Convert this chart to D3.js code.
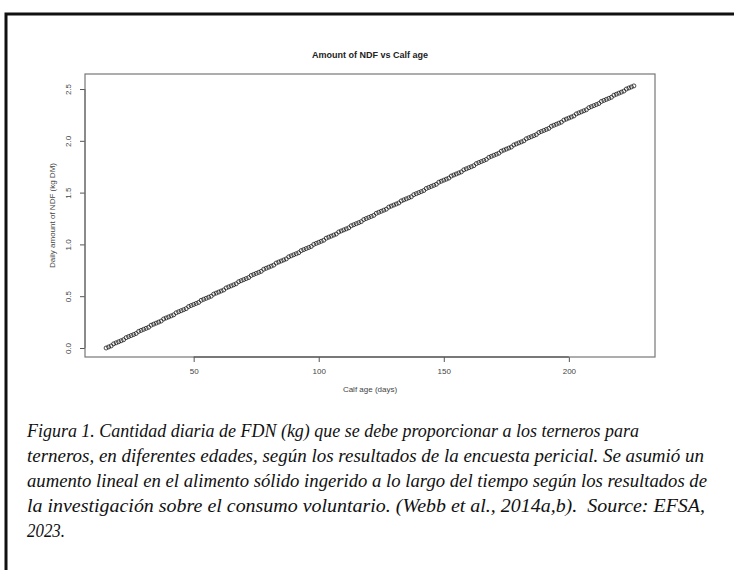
<!DOCTYPE html>
<html>
<head>
<meta charset="utf-8">
<script src="https://cdn.jsdelivr.net/npm/d3@7"></script>
<style>
  body { margin: 0; background: #fff; }
  svg { display: block; }
</style>
</head>
<body>
<div id="chart"></div>
<script>
// calf age (days)
var ages = [
  15, 16, 17, 18, 19, 20, 21, 22, 23, 24, 25, 26, 27, 28, 29, 30, 31, 32, 33, 34,
  35, 36, 37, 38, 39, 40, 41, 42, 43, 44, 45, 46, 47, 48, 49, 50, 51, 52, 53, 54,
  55, 56, 57, 58, 59, 60, 61, 62, 63, 64, 65, 66, 67, 68, 69, 70, 71, 72, 73, 74,
  75, 76, 77, 78, 79, 80, 81, 82, 83, 84, 85, 86, 87, 88, 89, 90, 91, 92, 93, 94,
  95, 96, 97, 98, 99, 100, 101, 102, 103, 104, 105, 106, 107, 108, 109, 110, 111, 112, 113, 114,
  115, 116, 117, 118, 119, 120, 121, 122, 123, 124, 125, 126, 127, 128, 129, 130, 131, 132, 133, 134,
  135, 136, 137, 138, 139, 140, 141, 142, 143, 144, 145, 146, 147, 148, 149, 150, 151, 152, 153, 154,
  155, 156, 157, 158, 159, 160, 161, 162, 163, 164, 165, 166, 167, 168, 169, 170, 171, 172, 173, 174,
  175, 176, 177, 178, 179, 180, 181, 182, 183, 184, 185, 186, 187, 188, 189, 190, 191, 192, 193, 194,
  195, 196, 197, 198, 199, 200, 201, 202, 203, 204, 205, 206, 207, 208, 209, 210, 211, 212, 213, 214,
  215, 216, 217, 218, 219, 220, 221, 222, 223, 224, 225, 226
];

// daily amount of NDF (kg DM)
var ndf = [
  0.00, 0.01, 0.02, 0.04, 0.05, 0.06, 0.07, 0.08, 0.10, 0.11,
  0.12, 0.13, 0.14, 0.16, 0.17, 0.18, 0.19, 0.20, 0.22, 0.23,
  0.24, 0.25, 0.26, 0.28, 0.29, 0.30, 0.31, 0.32, 0.34, 0.35,
  0.36, 0.37, 0.38, 0.40, 0.41, 0.42, 0.43, 0.44, 0.46, 0.47,
  0.48, 0.49, 0.50, 0.52, 0.53, 0.54, 0.55, 0.56, 0.58, 0.59,
  0.60, 0.61, 0.62, 0.64, 0.65, 0.66, 0.67, 0.68, 0.70, 0.71,
  0.72, 0.73, 0.74, 0.76, 0.77, 0.78, 0.79, 0.80, 0.82, 0.83,
  0.84, 0.85, 0.86, 0.88, 0.89, 0.90, 0.91, 0.92, 0.94, 0.95,
  0.96, 0.97, 0.98, 1.00, 1.01, 1.02, 1.03, 1.04, 1.06, 1.07,
  1.08, 1.09, 1.10, 1.12, 1.13, 1.14, 1.15, 1.16, 1.18, 1.19,
  1.20, 1.21, 1.22, 1.24, 1.25, 1.26, 1.27, 1.28, 1.30, 1.31,
  1.32, 1.33, 1.34, 1.36, 1.37, 1.38, 1.39, 1.40, 1.42, 1.43,
  1.44, 1.45, 1.46, 1.48, 1.49, 1.50, 1.51, 1.52, 1.54, 1.55,
  1.56, 1.57, 1.58, 1.60, 1.61, 1.62, 1.63, 1.64, 1.66, 1.67,
  1.68, 1.69, 1.70, 1.72, 1.73, 1.74, 1.75, 1.76, 1.78, 1.79,
  1.80, 1.81, 1.82, 1.84, 1.85, 1.86, 1.87, 1.88, 1.90, 1.91,
  1.92, 1.93, 1.94, 1.96, 1.97, 1.98, 1.99, 2.00, 2.02, 2.03,
  2.04, 2.05, 2.06, 2.08, 2.09, 2.10, 2.11, 2.12, 2.14, 2.15,
  2.16, 2.17, 2.18, 2.20, 2.21, 2.22, 2.23, 2.24, 2.26, 2.27,
  2.28, 2.29, 2.30, 2.32, 2.33, 2.34, 2.35, 2.36, 2.38, 2.39,
  2.40, 2.41, 2.42, 2.44, 2.45, 2.46, 2.47, 2.48, 2.50, 2.51,
  2.52, 2.53
];

var xTicks = [50, 100, 150, 200];
var yTicks = [0, 0.5, 1.0, 1.5, 2.0, 2.5];

var captionLines = [
  "Figura 1. Cantidad diaria de FDN (kg) que se debe proporcionar a los terneros para",
  "terneros, en diferentes edades, según los resultados de la encuesta pericial. Se asumió un",
  "aumento lineal en el alimento sólido ingerido a lo largo del tiempo según los resultados de",
  "la investigación sobre el consumo voluntario. (Webb et al., 2014a,b).\u00a0 Source: EFSA,",
  "2023."
];
var captionWidths = [612, 677, 680, 678, 38];

var points = ages.map(function (a, i) { return { age: a, ndf: ndf[i] }; });

var width = 734, height = 570;
var svg = d3.select("#chart").append("svg")
    .attr("width", width)
    .attr("height", height);

svg.append("rect").attr("width", width).attr("height", height).attr("fill", "#fff");

// outer frame of the figure (runs off the right and bottom)
svg.append("rect")
    .attr("x", 6).attr("y", 14)
    .attr("width", 760).attr("height", 620)
    .attr("fill", "none")
    .attr("stroke", "#111")
    .attr("stroke-width", 3);

// plot region
var plotLeft = 85, plotRight = 655, plotTop = 74, plotBottom = 357;

var xScale = d3.scaleLinear().domain([6.56, 234.44]).range([plotLeft, plotRight]);
var yScale = d3.scaleLinear().domain([-0.087, 2.645]).range([plotBottom, plotTop]);

var axisFont = "'Liberation Sans', Arial, sans-serif";

// x axis
var xAxis = svg.append("g")
    .attr("transform", "translate(0," + plotBottom + ")")
    .call(d3.axisBottom(xScale).tickValues(xTicks).tickSize(5).tickSizeOuter(0)
        .tickFormat(d3.format("d")));
xAxis.select(".domain").remove();
xAxis.selectAll("line").attr("stroke", "#555");
xAxis.selectAll("text")
    .attr("y", 17)
    .attr("dy", 0)
    .style("font-family", axisFont)
    .style("font-size", "8px")
    .attr("fill", "#444");

// y axis
var yAxis = svg.append("g")
    .attr("transform", "translate(" + plotLeft + ",0)")
    .call(d3.axisLeft(yScale).tickValues(yTicks).tickSize(5).tickSizeOuter(0)
        .tickFormat(d3.format(".1f")));
yAxis.select(".domain").remove();
yAxis.selectAll("line").attr("stroke", "#555");
yAxis.selectAll("text")
    .attr("x", 0).attr("dy", 0)
    .attr("transform", "translate(-14,0) rotate(-90)")
    .style("text-anchor", "middle")
    .style("font-family", axisFont)
    .style("font-size", "8px")
    .attr("fill", "#444");

// y axis line between first and last tick, R style
svg.append("line")
    .attr("x1", plotLeft).attr("x2", plotLeft)
    .attr("y1", yScale(yTicks[0])).attr("y2", yScale(yTicks[yTicks.length - 1]))
    .attr("stroke", "#555");

// box around plot
svg.append("rect")
    .attr("x", plotLeft).attr("y", plotTop)
    .attr("width", plotRight - plotLeft).attr("height", plotBottom - plotTop)
    .attr("fill", "none")
    .attr("stroke", "#777")
    .attr("stroke-width", 1.2);

// x axis line between first and last tick
svg.append("line")
    .attr("x1", xScale(xTicks[0])).attr("x2", xScale(xTicks[xTicks.length - 1]))
    .attr("y1", plotBottom).attr("y2", plotBottom)
    .attr("stroke", "#444").attr("stroke-width", 1.2);

// title
svg.append("text")
    .attr("x", (plotLeft + plotRight) / 2).attr("y", 58)
    .attr("text-anchor", "middle")
    .style("font-family", axisFont)
    .style("font-size", "9px")
    .style("font-weight", "bold")
    .attr("fill", "#222")
    .text("Amount of NDF vs Calf age");

// axis titles
svg.append("text")
    .attr("x", (plotLeft + plotRight) / 2).attr("y", 392)
    .attr("text-anchor", "middle")
    .style("font-family", axisFont)
    .style("font-size", "8px")
    .attr("fill", "#444")
    .text("Calf age (days)");

svg.append("text")
    .attr("transform", "translate(55," + ((plotTop + plotBottom) / 2) + ") rotate(-90)")
    .attr("text-anchor", "middle")
    .style("font-family", axisFont)
    .style("font-size", "8px")
    .attr("fill", "#444")
    .text("Daily amount of NDF (kg DM)");

// points
svg.append("g")
    .selectAll("circle")
    .data(points)
    .enter()
    .append("circle")
    .attr("cx", function (d) { return xScale(d.age); })
    .attr("cy", function (d) { return yScale(d.ndf); })
    .attr("r", 2)
    .attr("fill", "none")
    .attr("stroke", "#111")
    .attr("stroke-width", 0.75);

// caption
var caption = svg.append("g");
captionLines.forEach(function (line, i) {
    caption.append("text")
        .attr("x", 27)
        .attr("y", 437 + i * 25)
        .attr("textLength", captionWidths[i])
        .attr("lengthAdjust", "spacingAndGlyphs")
        .style("font-family", "'Liberation Serif', 'Times New Roman', serif")
        .style("font-style", "italic")
        .style("font-size", "19.5px")
        .attr("fill", "#111")
        .text(line);
});
</script>
</body>
</html>
